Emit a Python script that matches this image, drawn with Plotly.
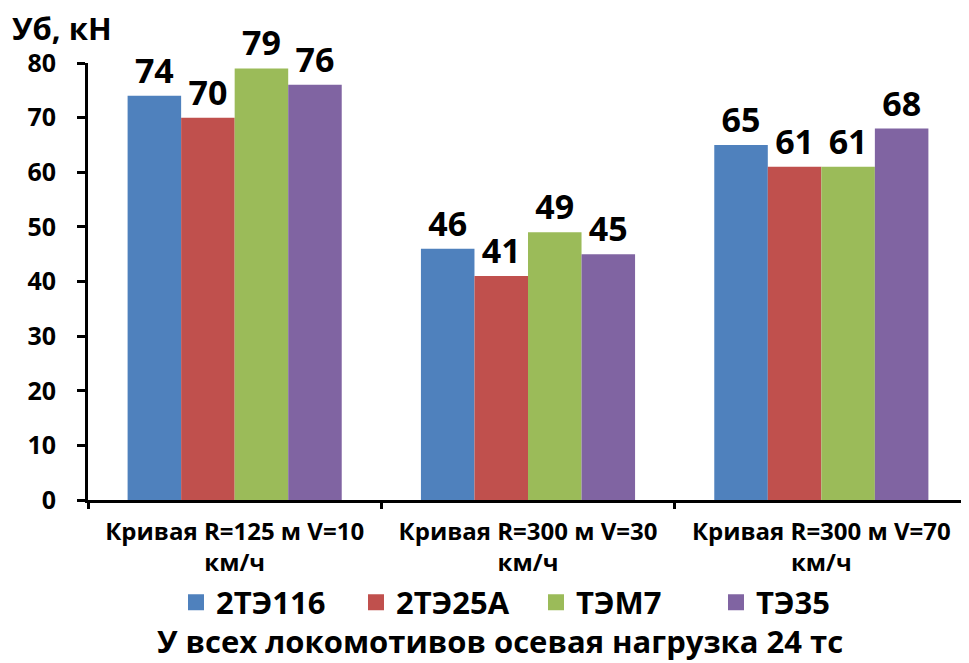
import plotly.graph_objects as go

categories = ["Кривая R=125 м V=10<br>км/ч", "Кривая R=300 м V=30<br>км/ч", "Кривая R=300 м V=70<br>км/ч"]
series_names = ["2ТЭ116", "2ТЭ25А", "ТЭМ7", "ТЭ35"]
v_2te116 = [74, 46, 65]
v_2te25a = [70, 41, 61]
v_tem7 = [79, 49, 61]
v_te35 = [76, 45, 68]
y_ticks = [0, 10, 20, 30, 40, 50, 60, 70, 80]
colors = ["#4F81BD", "#C0504D", "#9BBB59", "#8064A2"]

FONT = "Open Sans"
fig = go.Figure()
for name, vals, c in zip(series_names, [v_2te116, v_2te25a, v_tem7, v_te35], colors):
    fig.add_trace(go.Bar(
        x=categories, y=vals, name=name, showlegend=False,
        marker=dict(color=c, line=dict(width=0)),
        text=[str(v) for v in vals], textposition="outside",
        textfont=dict(family=FONT, size=34, color="black", weight="bold"),
        cliponaxis=False,
    ))
for name, c in zip(series_names, colors):
    fig.add_trace(go.Scatter(
        x=[None], y=[None], mode="markers", name=name,
        marker=dict(symbol="square", size=20, color=c),
    ))

fig.update_layout(
    width=961, height=655,
    margin=dict(l=80, r=1, t=55, b=163, autoexpand=False),
    paper_bgcolor="white", plot_bgcolor="white",
    barmode="group", bargap=0.27, bargroupgap=0,
    font=dict(family=FONT, color="black"),
    showlegend=True,
    legend=dict(orientation="h", x=0.1, xanchor="left", y=-0.235, yanchor="middle",
                font=dict(family=FONT, size=31, color="black", weight="bold"),
                itemsizing="trace", itemwidth=30, entrywidth=135, entrywidthmode="pixels",
                traceorder="normal"),
    xaxis=dict(showline=True, linecolor="black", linewidth=3, ticks="outside",
               tickson="boundaries", ticklen=6, tickwidth=3, tickcolor="black",
               ticklabelstandoff=8,
               tickfont=dict(family=FONT, size=24, color="black", weight="bold"),
               showgrid=False),
    yaxis=dict(range=[0, 80], tickvals=y_ticks, showline=True, linecolor="black", linewidth=3,
               ticks="outside", ticklen=8, tickwidth=3, tickcolor="black",
               ticklabelstandoff=16,
               tickfont=dict(family=FONT, size=25, color="black", weight="bold"),
               showgrid=False, zeroline=False),
    annotations=[
        dict(text="Уб, кН", xref="paper", yref="paper", x=-0.089, y=1.08, xanchor="left", yanchor="middle",
             showarrow=False, font=dict(family=FONT, size=31, color="black", weight="bold")),
        dict(text="У всех локомотивов осевая нагрузка 24 тс", xref="paper", yref="paper",
             x=0.468, y=-0.322, xanchor="center", yanchor="middle",
             showarrow=False, font=dict(family=FONT, size=31, color="black", weight="bold")),
    ],
)
fig.write_html("out.html")
